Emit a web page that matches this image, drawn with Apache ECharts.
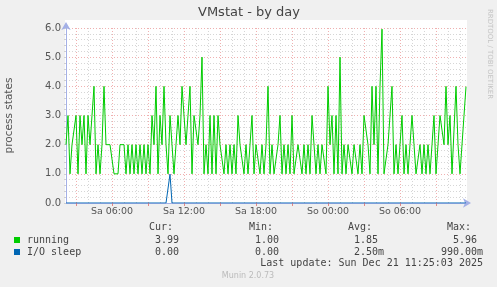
<!DOCTYPE html>
<html><head><meta charset="utf-8">
<script src="https://cdn.jsdelivr.net/npm/echarts@6/dist/echarts.min.js"></script>
<style>html,body{margin:0;padding:0;background:#f0f0f0}#c{width:497px;height:287px}</style>
</head><body><div id="c"></div>
<script>
// ---- data (10-minute samples from Sa 02:10 to So 11:30) ----
const startMinute = 130;   // Sa 02:10
const stepMinutes = 10;
const tickLabels = ['Sa 06:00', 'Sa 12:00', 'Sa 18:00', 'So 00:00', 'So 06:00'];
const yTickLabels = ['0.0', '1.0', '2.0', '3.0', '4.0', '5.0', '6.0'];
const seriesNames = ['running', 'I/O sleep'];
const seriesColors = ['#00cc00', '#0066b3'];
const running = [
  2,3,1,2,2,3,1,3,2,3,1,3,2,3,4,1,2,1,2,4,2,2,2,2,1,1,1,2,2,2,
  1,2,1,2,1,2,1,2,1,2,1,2,1,3,2,4,1,3,2,4,2,1,3,2,1,2,3,2,4,
  3,2,3,4,1,3,3,2,3,5,1,2,1,3,1,3,1,3,2,2,1,2,1,2,1,2,1,3,2,
  2,1,2,1,1,3,1,2,2,1,2,1,2,4,1,2,1,1,2,3,1,2,1,2,1,3,1,1,2,
  2,1,2,1,2,1,3,3,1,2,1,2,2,1,4,2,3,1,3,1,5,1,2,1,2,2,1,2,2,
  1,2,1,3,3,2,1,4,2,4,1,4,5.96,1,1,2,2,4,1,2,1,2,3,1,2,1,2,3,
  2,1,1,2,1,2,1,2,1,2,3,1,2,3,3,2,4,2,3,1,1,4,2,1,1,3,3.99
];
const ioSleep = [
  0,0,0,0,0,0,0,0,0,0,0,0,0,0,0,0,0,0,0,0,
  0,0,0,0,0,0,0,0,0,0,0,0,0,0,0,0,0,0,0,0,
  0,0,0,0,0,0,0,0,0,0,0,0,0.99,0,0,0,0,0,0,0,
  0,0,0,0,0,0,0,0,0,0,0,0,0,0,0,0,0,0,0,0,
  0,0,0,0,0,0,0,0,0,0,0,0,0,0,0,0,0,0,0,0,
  0,0,0,0,0,0,0,0,0,0,0,0,0,0,0,0,0,0,0,0,
  0,0,0,0,0,0,0,0,0,0,0,0,0,0,0,0,0,0,0,0,
  0,0,0,0,0,0,0,0,0,0,0,0,0,0,0,0,0,0,0,0,
  0,0,0,0,0,0,0,0,0,0,0,0,0,0,0,0,0,0,0,0,
  0,0,0,0,0,0,0,0,0,0,0,0,0,0,0,0,0,0,0,0,
  0
];
const statHeaders = ['Cur:', 'Min:', 'Avg:', 'Max:'];
const runningStats = ['3.99', '1.00', '1.85', '5.96'];
const ioStats = ['0.00', '0.00', '2.50m', '990.00m'];
const lastUpdate = 'Last update: Sun Dec 21 11:25:03 2025';
const titleText = 'VMstat - by day';
const yName = 'process states';
const sideText = 'RRDTOOL / TOBI OETIKER';
const footer = 'Munin 2.0.73';

// ---- build category labels ----
const categories = running.map((_, i) => {
  const m = startMinute + i * stepMinutes;
  const day = m < 1440 ? 'Sa' : 'So';
  const mm = m % 1440;
  const hh = Math.floor(mm / 60), mi = mm % 60;
  return day + ' ' + String(hh).padStart(2, '0') + ':' + String(mi).padStart(2, '0');
});
function isHour(v, step) {
  const t = v.split(' ')[1];
  const hh = parseInt(t.slice(0, 2), 10), mi = t.slice(3);
  return mi === '00' && hh % step === 0;
}
function fmtStat(s) {
  const m = s.match(/^([\d.]+)(\D*)$/);
  return m[1].padStart(6, ' ') + m[2];
}

const SANS = "'DejaVu Sans', sans-serif";
const MONO = "'DejaVu Sans Mono', monospace";
const axisCol = '#a4b0e6';
const majorCol = '#f0b0b0';
const minorCol = '#d6d6d6';

const graphics = [
  { type: 'rect', z: -10, shape: { x: 65, y: 20, width: 402, height: 184 }, style: { fill: '#ffffff' } },
  { type: 'text', x: 249, y: 13, style: { text: titleText, font: '13px ' + SANS, fill: '#444', align: 'center', verticalAlign: 'middle' } },
  { type: 'text', x: 490, y: 54, rotation: -Math.PI / 2, style: { text: sideText, font: '7px ' + SANS, fill: '#c4c4c4', align: 'center', verticalAlign: 'middle' } },
  { type: 'text', x: 248, y: 276, style: { text: footer, font: '8px ' + SANS, fill: '#bbbbbb', align: 'center', verticalAlign: 'middle' } },
  { type: 'text', x: 483, y: 263.5, style: { text: lastUpdate, font: '10px ' + MONO, fill: '#444', align: 'right', verticalAlign: 'middle' } }
];
const colX = [143, 243, 342, 441];
statHeaders.forEach((h, k) => {
  graphics.push({ type: 'text', x: colX[k] + 6, y: 227.5, style: { text: h, font: '10px ' + MONO, fill: '#444', verticalAlign: 'middle' } });
});
[[runningStats, 240], [ioStats, 252]].forEach(([arr, y], r) => {
  graphics.push({ type: 'rect', shape: { x: 14, y: y - 3, width: 6, height: 6 }, style: { fill: seriesColors[r] } });
  graphics.push({ type: 'text', x: 27, y: y, style: { text: seriesNames[r], font: '10px ' + MONO, fill: '#444', verticalAlign: 'middle' } });
  arr.forEach((s, k) => {
    graphics.push({ type: 'text', x: colX[k], y: y, style: { text: fmtStat(s), font: '10px ' + MONO, fill: '#444', verticalAlign: 'middle' } });
  });
});

const chart = echarts.init(document.getElementById('c'), null, { renderer: 'canvas' });
chart.setOption({
  animation: false,
  backgroundColor: '#f0f0f0',
  grid: { left: 66, right: 31, top: 28, bottom: 84, containLabel: false, outerBoundsMode: 'none' },
  xAxis: [{
    type: 'category', data: categories, boundaryGap: false,
    axisLine: { show: true, lineStyle: { color: axisCol, width: 1 }, symbol: ['none', 'arrow'], symbolSize: [7, 8], symbolOffset: [0, 5] },
    axisTick: { show: true, interval: (i, v) => isHour(v, 3), length: 3, lineStyle: { color: '#e08888' } },
    axisLabel: { interval: (i, v) => tickLabels.includes(v), color: '#555', fontSize: 9.5, fontFamily: SANS, margin: 4 },
    splitLine: { show: true, interval: (i, v) => isHour(v, 3), lineStyle: { color: majorCol, type: [1, 2], width: 1 } }
  }, {
    type: 'category', data: categories, boundaryGap: false, position: 'bottom',
    axisLine: { show: false }, axisTick: { show: false }, axisLabel: { show: false },
    splitLine: { show: true, interval: (i, v) => isHour(v, 1) && !isHour(v, 3), lineStyle: { color: minorCol, type: [1, 2], width: 1 } }
  }],
  yAxis: {
    type: 'value', min: 0, max: 6, interval: 1,
    name: yName, nameLocation: 'middle', nameGap: 51,
    nameTextStyle: { color: '#555', fontSize: 10.5, fontFamily: SANS },
    axisLine: { show: true, lineStyle: { color: axisCol, width: 1 }, symbol: ['none', 'arrow'], symbolSize: [7, 8], symbolOffset: [0, 6] },
    axisTick: { show: true, length: 2, lineStyle: { color: '#d0d0d0' } },
    minorTick: { show: true, splitNumber: 5, length: 2, lineStyle: { color: '#d0d0d0' } },
    axisLabel: { color: '#555', fontSize: 10, fontFamily: SANS, margin: 5, formatter: v => yTickLabels[Math.round(v)] },
    splitLine: { show: true, lineStyle: { color: majorCol, type: [1, 2], width: 1 } },
    minorSplitLine: { show: true, lineStyle: { color: minorCol, type: [1, 2], width: 1 } }
  },
  series: [{
    name: seriesNames[0], type: 'line', data: running, xAxisIndex: 0,
    showSymbol: false, symbol: 'none', lineStyle: { color: seriesColors[0], width: 1 }, itemStyle: { color: seriesColors[0] }, z: 3
  }, {
    name: seriesNames[1], type: 'line', data: ioSleep, xAxisIndex: 0,
    showSymbol: false, symbol: 'none', lineStyle: { color: seriesColors[1], width: 1 }, itemStyle: { color: seriesColors[1] }, z: 4
  }],
  graphic: graphics
});
</script>
</body></html>
